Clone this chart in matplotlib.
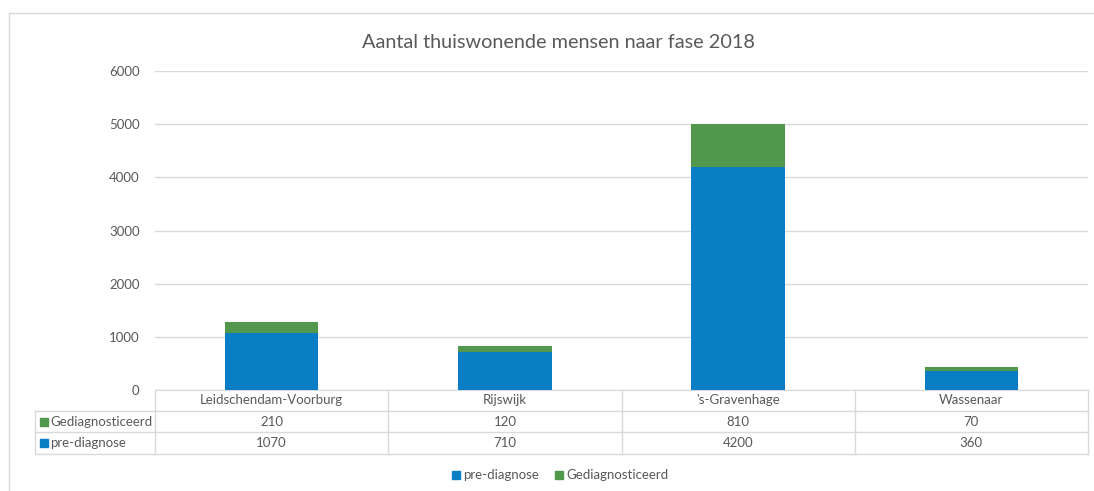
import matplotlib
matplotlib.use("Agg")
import matplotlib.pyplot as plt
from matplotlib.patches import Rectangle
from matplotlib.lines import Line2D

plt.rcParams['font.family'] = ['Lato', 'DejaVu Sans']

categories = ["Leidschendam-Voorburg", "Rijswijk", "'s-Gravenhage", "Wassenaar"]
pre_diagnose = [1070, 710, 4200, 360]
gediagnosticeerd = [210, 120, 810, 70]
series_names = ["pre-diagnose", "Gediagnosticeerd"]
yticks = [0, 1000, 2000, 3000, 4000, 5000, 6000]
title = "Aantal thuiswonende mensen naar fase 2018"

BLUE = "#0A7EC4"
GREEN = "#52984C"
TXT = "#595959"
GRID = "#D9D9D9"
FS = 9.5

W, H = 1094, 491
fig = plt.figure(figsize=(W / 100, H / 100), dpi=100)

def fx(px):
    return px / W

def fy(py):
    return 1 - py / H

# outer border
fig.add_artist(Line2D([fx(9), fx(1094)], [fy(13), fy(13)], color=GRID, lw=1))
fig.add_artist(Line2D([fx(9), fx(9)], [fy(13), fy(491)], color=GRID, lw=1))

L, R, T, B = 155, 1088, 71, 390
ax = fig.add_axes([fx(L), fy(B), fx(R - L), (B - T) / H])
x = list(range(len(categories)))
ax.bar(x, pre_diagnose, width=0.4, color=BLUE, zorder=3)
ax.bar(x, gediagnosticeerd, width=0.4, bottom=pre_diagnose, color=GREEN, zorder=3)
ax.set_xlim(-0.5, len(categories) - 0.5)
ax.set_ylim(0, 6000)
ax.set_yticks(yticks)
ax.set_yticklabels([str(v) for v in yticks], color=TXT, fontsize=FS)
ax.tick_params(axis='y', length=0, pad=11)
ax.set_xticks([])
ax.grid(axis='y', color=GRID, lw=1, zorder=0)
for s in ["top", "right", "left"]:
    ax.spines[s].set_visible(False)
ax.spines["bottom"].set_color(GRID)

fig.text(0.51, fy(42), title, ha='center', va='center', fontsize=14.3, color=TXT)

# data table
cols = [L + (R - L) * i / len(categories) for i in range(len(categories) + 1)]
rows = [390, 411, 432, 454]
tl = 35
for yv in rows[1:]:
    fig.add_artist(Line2D([fx(tl), fx(R)], [fy(yv), fy(yv)], color=GRID, lw=1))
for c in cols:
    fig.add_artist(Line2D([fx(c), fx(c)], [fy(390), fy(454)], color=GRID, lw=1))
fig.add_artist(Line2D([fx(tl), fx(tl)], [fy(411), fy(454)], color=GRID, lw=1))

for i, name in enumerate(categories):
    cx = (cols[i] + cols[i + 1]) / 2
    fig.text(fx(cx), fy(400.5), name, ha='center', va='center', fontsize=FS, color=TXT)
    fig.text(fx(cx), fy(421.5), str(gediagnosticeerd[i]), ha='center', va='center', fontsize=FS, color=TXT)
    fig.text(fx(cx), fy(443), str(pre_diagnose[i]), ha='center', va='center', fontsize=FS, color=TXT)

sq = 8
for yc, name, col in [(421.5, series_names[1], GREEN), (443, series_names[0], BLUE)]:
    fig.add_artist(Rectangle((fx(40), fy(yc + sq / 2)), fx(sq), sq / H, color=col))
    fig.text(fx(50), fy(yc), name, ha='left', va='center', fontsize=FS, color=TXT)

# legend
ly = 475
for xs, name, col in [(452, series_names[0], BLUE), (555, series_names[1], GREEN)]:
    fig.add_artist(Rectangle((fx(xs), fy(ly + sq / 2)), fx(sq), sq / H, color=col))
    fig.text(fx(xs + 11), fy(ly), name, ha='left', va='center', fontsize=FS, color=TXT)

fig.savefig("out.png", dpi=100)
